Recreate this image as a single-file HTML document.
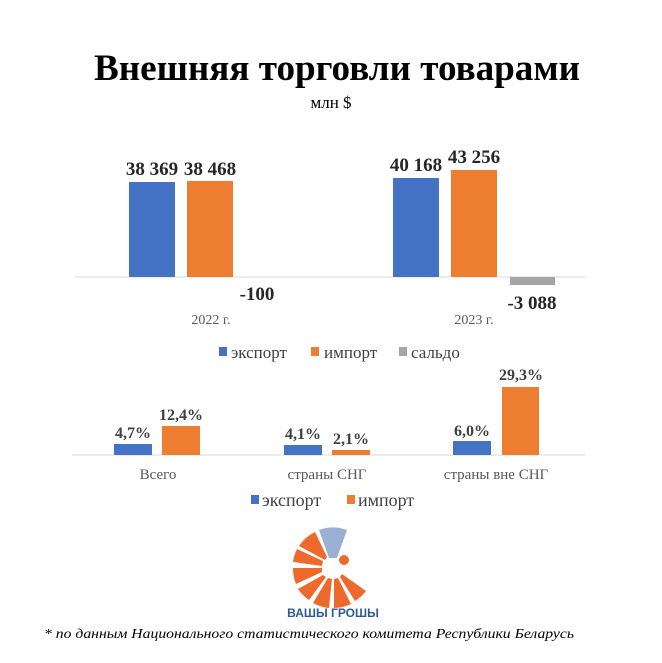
<!DOCTYPE html>
<html><head><meta charset="utf-8"><style>
body{margin:0;background:#fff;}
svg{display:block;}
</style></head><body>
<svg width="662" height="663" viewBox="0 0 662 663" xmlns="http://www.w3.org/2000/svg" font-family="Liberation Serif, serif">
<rect width="662" height="663" fill="#fff"/>
<text x="337" y="80" text-anchor="middle" font-size="37" font-weight="bold" fill="#000" textLength="486" lengthAdjust="spacingAndGlyphs">Внешняя торговли товарами</text>
<text x="331" y="108" text-anchor="middle" font-size="17" fill="#000">млн $</text>
<!-- top chart -->
<line x1="75" y1="277" x2="585" y2="277" stroke="#d9d9d9" stroke-width="1"/>
<rect x="129" y="182" width="46" height="95" fill="#4472c4"/>
<rect x="187" y="181" width="46" height="96" fill="#ed7d31"/>
<rect x="393" y="178" width="46" height="99" fill="#4472c4"/>
<rect x="451" y="170" width="46" height="107" fill="#ed7d31"/>
<rect x="510" y="277" width="45" height="8" fill="#a5a5a5"/>
<g font-size="19" font-weight="bold" fill="#262626" text-anchor="middle">
<text x="152" y="175">38 369</text>
<text x="210" y="175">38 468</text>
<text x="257" y="300">-100</text>
<text x="416" y="171">40 168</text>
<text x="474" y="163">43 256</text>
<text x="532" y="309">-3 088</text>
</g>
<g font-size="14" fill="#595959" text-anchor="middle">
<text x="211" y="324">2022 г.</text>
<text x="474" y="324">2023 г.</text>
</g>
<g font-size="17" fill="#404040">
<rect x="219" y="347" width="8" height="9" fill="#4472c4"/><text x="231" y="358">экспорт</text>
<rect x="311" y="347" width="8" height="9" fill="#ed7d31"/><text x="324" y="358">импорт</text>
<rect x="399" y="347" width="8" height="9" fill="#a5a5a5"/><text x="411" y="358">сальдо</text>
</g>
<!-- bottom chart -->
<line x1="72" y1="455" x2="585" y2="455" stroke="#d9d9d9" stroke-width="1"/>
<rect x="114" y="444" width="38" height="11" fill="#4472c4"/>
<rect x="162" y="426" width="38" height="29" fill="#ed7d31"/>
<rect x="284" y="445" width="38" height="10" fill="#4472c4"/>
<rect x="332" y="450" width="38" height="5" fill="#ed7d31"/>
<rect x="453" y="441" width="38" height="14" fill="#4472c4"/>
<rect x="502" y="387" width="37" height="68" fill="#ed7d31"/>
<g font-size="16" font-weight="bold" fill="#404040" text-anchor="middle">
<text x="133" y="438">4,7%</text>
<text x="181" y="420">12,4%</text>
<text x="303" y="439">4,1%</text>
<text x="351" y="444">2,1%</text>
<text x="472" y="436">6,0%</text>
<text x="521" y="380">29,3%</text>
</g>
<g font-size="15" fill="#595959" text-anchor="middle">
<text x="158" y="479">Всего</text>
<text x="327" y="479">страны СНГ</text>
<text x="496" y="479">страны вне СНГ</text>
</g>
<g font-size="18" fill="#404040">
<rect x="251" y="495" width="8" height="9" fill="#4472c4"/><text x="262" y="506">экспорт</text>
<rect x="347" y="495" width="8" height="9" fill="#ed7d31"/><text x="358" y="506">импорт</text>
</g>
<!-- logo -->
<g transform="translate(333,568)">
<path d="M-4,-10 L-14,-38 A40,40 0 0 1 14,-38 L4,-10 Z" fill="#6f8fbf" opacity="0.7"/>
<path d="M-8,-8 L-34,-22 A40,40 0 0 1 -18,-36 L-6,-11 Z" fill="#ed6a2c"/>
<path d="M-11,-2 L-40,-6 A40,40 0 0 1 -36,-19 L-10,-7 Z" fill="#ed6a2c"/>
<path d="M-11,4 L-37,16 A40,40 0 0 1 -40,0 L-11,0 Z" fill="#ed6a2c"/>
<path d="M-7,9 L-24,32 A40,40 0 0 1 -35,21 L-10,7 Z" fill="#ed6a2c"/>
<path d="M-1,11 L-4,40 A40,40 0 0 1 -20,35 L-5,10 Z" fill="#ed6a2c"/>
<path d="M5,10 L18,36 A40,40 0 0 1 1,40 L1,11 Z" fill="#ed6a2c"/>
<path d="M9,6 L33,23 A40,40 0 0 1 22,33 L7,9 Z" fill="#ed6a2c"/>
<circle cx="11" cy="-8" r="5" fill="#ed6a2c"/>
</g>
<text x="333" y="617" text-anchor="middle" font-family="Liberation Sans, sans-serif" font-size="12" font-weight="bold" fill="#2e5a97">ВАШЫ ГРОШЫ</text>
<text x="309" y="638" text-anchor="middle" font-size="14" font-style="italic" fill="#000" textLength="530" lengthAdjust="spacingAndGlyphs">* по данным Национального статистического комитета Республики Беларусь</text>
</svg>
</body></html>
